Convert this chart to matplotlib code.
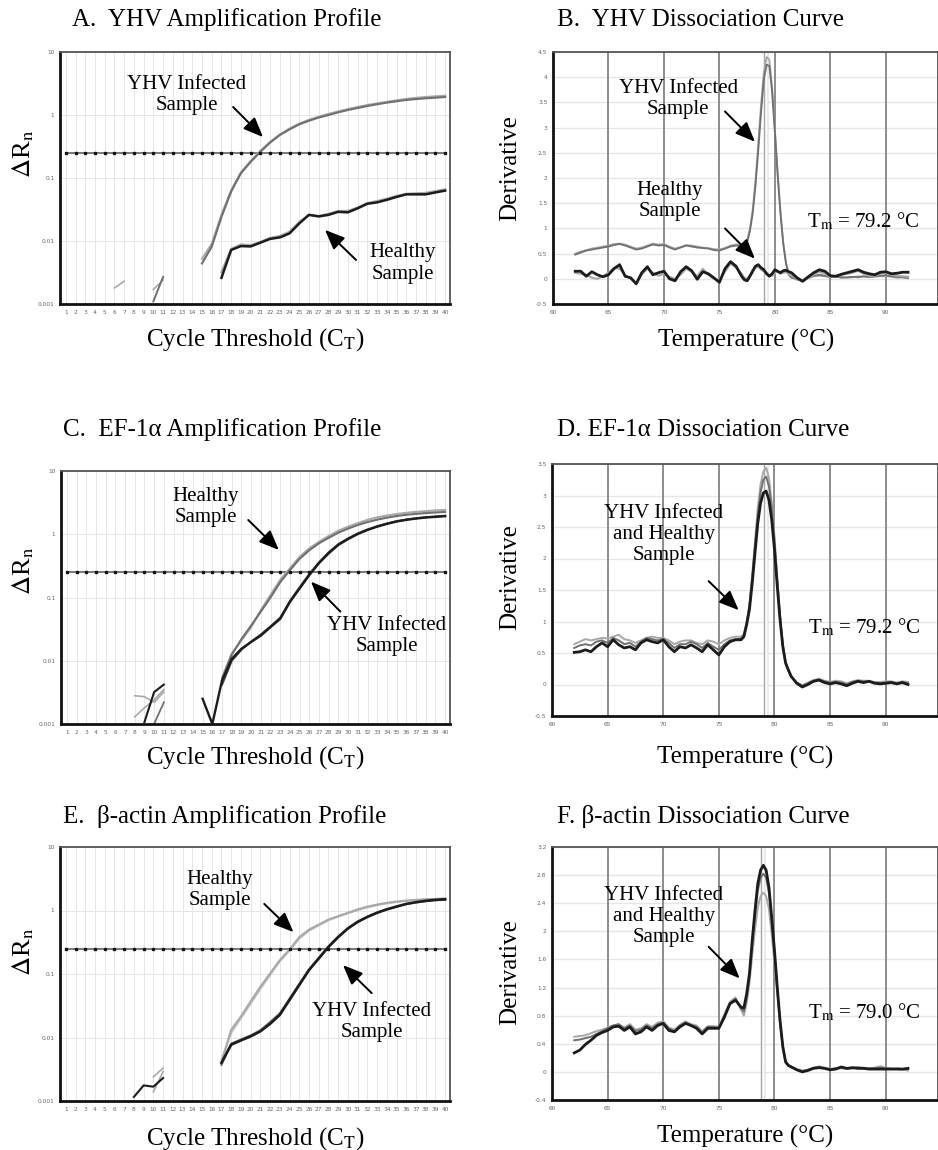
import matplotlib
matplotlib.use('Agg')
import matplotlib.pyplot as plt
from matplotlib.ticker import NullLocator

plt.rcParams['font.family'] = ['Liberation Serif', 'DejaVu Serif']
plt.rcParams['mathtext.fontset'] = 'stix'

# ---------------- amplification profiles (delta Rn per cycle) ----------------
cycles = list(range(1, 41))
threshold = 0.25
amp_yticks = [0.001, 0.01, 0.1, 1, 10]
amp_ylabels = ['0.001', '0.01', '0.1', '1', '10']

# A. YHV
a_inf_cyc = list(range(15, 41))
a_inf_1 = [0.0044, 0.0081, 0.024, 0.061, 0.119, 0.18, 0.26, 0.364, 0.48, 0.59, 0.71, 0.81, 0.91,
           1.0, 1.10, 1.20, 1.29, 1.39, 1.48, 1.57, 1.65, 1.73, 1.79, 1.84, 1.88, 1.93]
a_inf_2 = [0.0052, 0.0090, 0.026, 0.064, 0.123, 0.185, 0.27, 0.375, 0.49, 0.61, 0.73, 0.84, 0.94,
           1.04, 1.14, 1.24, 1.34, 1.44, 1.53, 1.62, 1.71, 1.80, 1.87, 1.93, 1.98, 2.02]
a_hea_cyc = list(range(17, 41))
a_hea_1 = [0.0026, 0.0072, 0.0083, 0.0082, 0.0094, 0.0108, 0.0114, 0.0132, 0.019, 0.026, 0.0245, 0.026,
           0.029, 0.0285, 0.033, 0.039, 0.041, 0.045, 0.050, 0.055, 0.055, 0.055, 0.059, 0.063]
a_hea_2 = [0.0032, 0.0075, 0.0088, 0.0086, 0.0097, 0.0112, 0.0120, 0.0140, 0.020, 0.026, 0.025, 0.027,
           0.030, 0.030, 0.034, 0.040, 0.043, 0.047, 0.052, 0.056, 0.057, 0.058, 0.062, 0.066]
a_frag1_cyc, a_frag1 = [6, 7], [0.0018, 0.0023]
a_frag2_cyc, a_frag2 = [10, 11], [0.0011, 0.0027]
a_frag3_cyc, a_frag3 = [10, 11], [0.0017, 0.0024]

# C. EF-1a
c_hea_cyc = list(range(17, 41))
c_hea_1 = [0.0055, 0.0129, 0.021, 0.034, 0.063, 0.11, 0.19, 0.29, 0.44, 0.60, 0.76, 0.94,
           1.14, 1.32, 1.50, 1.69, 1.85, 1.98, 2.09, 2.18, 2.26, 2.32, 2.38, 2.43]
c_hea_2 = [0.0050, 0.0125, 0.022, 0.036, 0.060, 0.10, 0.175, 0.27, 0.41, 0.56, 0.72, 0.88,
           1.06, 1.23, 1.40, 1.56, 1.70, 1.83, 1.94, 2.03, 2.10, 2.16, 2.21, 2.25]
c_inf1_cyc = list(range(15, 41))
c_inf_1 = [0.0025, 0.001, 0.0049, 0.0107, 0.0155, 0.0198, 0.025, 0.034, 0.046, 0.085, 0.139, 0.226, 0.35,
           0.50, 0.68, 0.84, 1.01, 1.17, 1.32, 1.46, 1.59, 1.69, 1.77, 1.84, 1.88, 1.93]
c_inf2_cyc = list(range(17, 41))
c_inf_2 = [0.0042, 0.0100, 0.0150, 0.0200, 0.026, 0.035, 0.048, 0.088, 0.145, 0.235, 0.36, 0.52,
           0.70, 0.86, 1.03, 1.19, 1.34, 1.48, 1.61, 1.71, 1.79, 1.86, 1.91, 1.96]
c_frag1_cyc, c_frag1 = [9, 10, 11], [0.00107, 0.0032, 0.0042]
c_frag2_cyc, c_frag2 = [8, 9, 10, 11], [0.0028, 0.0027, 0.0022, 0.0032]
c_frag3_cyc, c_frag3 = [8, 9, 10, 11], [0.0013, 0.0018, 0.0024, 0.0035]
c_frag4_cyc, c_frag4 = [10, 11], [0.001, 0.0022]

# E. beta-actin
e_cyc = list(range(17, 41))
e_hea_1 = [0.0040, 0.0132, 0.0214, 0.037, 0.063, 0.102, 0.165, 0.242, 0.38, 0.50, 0.60, 0.72,
           0.815, 0.92, 1.04, 1.15, 1.24, 1.32, 1.38, 1.43, 1.47, 1.50, 1.52, 1.54]
e_hea_2 = [0.0045, 0.0118, 0.0200, 0.034, 0.058, 0.096, 0.158, 0.235, 0.36, 0.48, 0.58, 0.70,
           0.80, 0.90, 1.01, 1.12, 1.21, 1.29, 1.36, 1.42, 1.46, 1.49, 1.52, 1.55]
e_inf_1 = [0.0040, 0.0077, 0.0090, 0.0104, 0.0125, 0.0164, 0.0227, 0.039, 0.067, 0.115, 0.175, 0.266,
           0.38, 0.52, 0.66, 0.79, 0.92, 1.04, 1.15, 1.27, 1.35, 1.42, 1.47, 1.50]
e_inf_2 = [0.0037, 0.0080, 0.0093, 0.0108, 0.0130, 0.0175, 0.024, 0.041, 0.070, 0.118, 0.180, 0.272,
           0.39, 0.53, 0.67, 0.80, 0.93, 1.05, 1.16, 1.26, 1.34, 1.40, 1.45, 1.48]
e_frag1_cyc, e_frag1 = [8, 9, 10, 11], [0.00116, 0.00176, 0.00168, 0.0023]
e_frag2_cyc, e_frag2 = [10, 11], [0.0024, 0.0033]
e_frag3_cyc, e_frag3 = [10, 11], [0.0014, 0.0029]

# ---------------- dissociation curves (derivative vs temperature) ----------------
temps = [62.0, 62.5, 63.0, 63.5, 64.0, 64.5, 65.0, 65.5, 66.0, 66.5, 67.0, 67.5, 68.0, 68.5, 69.0, 69.5,
         70.0, 70.5, 71.0, 71.5, 72.0, 72.5, 73.0, 73.5, 74.0, 74.5, 75.0, 75.5, 76.0, 76.5, 77.0,
         77.25, 77.5, 77.75, 78.0, 78.25, 78.5, 78.75, 79.0, 79.25, 79.5, 79.75, 80.0, 80.25, 80.5,
         80.75, 81.0, 81.25, 81.5,
         82.0, 82.5, 83.0, 83.5, 84.0, 84.5, 85.0, 85.5, 86.0, 86.5, 87.0, 87.5, 88.0, 88.5, 89.0,
         89.5, 90.0, 90.5, 91.0, 91.5, 92.0]
diss_xticks = [60, 65, 70, 75, 80, 85, 90, 95]
diss_grid = [65, 70, 75, 80, 85, 90]

# B. YHV
b_inf_1 = [0.48, 0.52, 0.56, 0.58, 0.60, 0.62, 0.64, 0.67, 0.69, 0.66, 0.62, 0.58, 0.60, 0.64, 0.68, 0.66,
           0.67, 0.62, 0.58, 0.62, 0.66, 0.64, 0.62, 0.61, 0.60, 0.57, 0.56, 0.60, 0.64, 0.66, 0.65,
           0.66, 0.72, 0.95, 1.30, 1.85, 2.55, 3.30, 3.95, 4.25, 4.22, 3.70, 2.90, 2.05, 1.30,
           0.70, 0.30, 0.08, 0.02,
           0.0, -0.05, 0.02, 0.06, 0.08, 0.06, 0.04, 0.05, 0.02, 0.03, 0.04, 0.03, 0.05, 0.04, 0.05,
           0.06, 0.07, 0.05, 0.04, 0.03, 0.02]
b_inf_2 = [0.50, 0.54, 0.57, 0.60, 0.62, 0.64, 0.66, 0.69, 0.70, 0.68, 0.64, 0.60, 0.62, 0.66, 0.70, 0.68,
           0.69, 0.64, 0.60, 0.63, 0.67, 0.66, 0.64, 0.62, 0.61, 0.59, 0.58, 0.61, 0.66, 0.68, 0.68,
           0.69, 0.76, 1.00, 1.38, 1.95, 2.68, 3.45, 4.10, 4.40, 4.35, 3.80, 2.98, 2.10, 1.35,
           0.72, 0.32, 0.10, 0.03,
           -0.02, -0.04, 0.01, 0.05, 0.06, 0.05, 0.03, 0.04, 0.04, 0.02, 0.03, 0.05, 0.04, 0.03, 0.04,
           0.05, 0.05, 0.04, 0.02, 0.03, 0.01]
b_hea_1 = [0.15, 0.15, 0.05, 0.14, 0.08, 0.04, 0.08, 0.20, 0.28, 0.05, 0.02, -0.10, 0.12, 0.24, 0.08, 0.12,
           0.15, 0.00, -0.04, 0.14, 0.24, 0.16, -0.01, 0.14, 0.10, 0.02, -0.07, 0.20, 0.34, 0.25, 0.05,
           -0.02, -0.04, 0.05, 0.15, 0.25, 0.28, 0.22, 0.18, 0.10, 0.05, 0.10, 0.18, 0.15, 0.12,
           0.16, 0.17, 0.14, 0.12,
           0.02, -0.05, 0.04, 0.12, 0.18, 0.15, 0.06, 0.05, 0.09, 0.12, 0.15, 0.18, 0.13, 0.10, 0.08,
           0.13, 0.14, 0.10, 0.11, 0.13, 0.13]
b_hea_2 = [0.12, 0.10, 0.08, 0.02, 0.00, 0.05, 0.12, 0.22, 0.20, 0.08, 0.00, -0.08, 0.08, 0.20, 0.12, 0.06,
           0.10, 0.04, 0.00, 0.08, 0.20, 0.14, 0.05, 0.20, 0.08, 0.00, -0.04, 0.14, 0.30, 0.22, 0.10,
           0.02, 0.00, 0.08, 0.18, 0.22, 0.24, 0.18, 0.15, 0.12, 0.08, 0.06, 0.12, 0.14, 0.10,
           0.12, 0.13, 0.10, 0.06,
           0.00, -0.03, 0.02, 0.08, 0.14, 0.10, 0.04, 0.06, 0.08, 0.10, 0.12, 0.16, 0.10, 0.06, 0.06,
           0.10, 0.12, 0.08, 0.06, 0.05, 0.04]
b_yticks = [-0.5, 0, 0.5, 1, 1.5, 2, 2.5, 3, 3.5, 4, 4.5]
b_ylabels = ['-0.5', '0', '0.5', '1', '1.5', '2', '2.5', '3', '3.5', '4', '4.5']
b_tm = 79.2

# D. EF-1a
d_dark = [0.51, 0.52, 0.55, 0.52, 0.60, 0.66, 0.60, 0.71, 0.63, 0.58, 0.60, 0.55, 0.66, 0.71, 0.68, 0.66,
          0.71, 0.60, 0.52, 0.60, 0.58, 0.63, 0.58, 0.52, 0.63, 0.55, 0.47, 0.60, 0.68, 0.71, 0.71,
          0.76, 0.95, 1.19, 1.61, 2.09, 2.56, 2.88, 3.04, 3.07, 2.93, 2.62, 2.14, 1.56, 1.03,
          0.60, 0.34, 0.23, 0.13,
          0.02, -0.04, 0.00, 0.05, 0.07, 0.03, 0.01, 0.03, 0.01, -0.02, 0.02, 0.05, 0.03, 0.05, 0.02,
          0.01, 0.02, 0.03, 0.01, 0.03, 0.00]
d_mid = [0.58, 0.62, 0.64, 0.62, 0.68, 0.70, 0.66, 0.74, 0.70, 0.64, 0.66, 0.60, 0.68, 0.74, 0.72, 0.70,
         0.72, 0.66, 0.58, 0.64, 0.64, 0.68, 0.64, 0.58, 0.66, 0.60, 0.55, 0.64, 0.70, 0.72, 0.73,
         0.78, 0.98, 1.25, 1.70, 2.20, 2.70, 3.05, 3.25, 3.30, 3.15, 2.80, 2.28, 1.65, 1.08,
         0.62, 0.35, 0.22, 0.12,
         0.03, -0.02, 0.02, 0.06, 0.08, 0.05, 0.03, 0.04, 0.03, 0.00, 0.04, 0.06, 0.05, 0.05, 0.03,
         0.02, 0.03, 0.04, 0.02, 0.04, 0.02]
d_light = [0.64, 0.68, 0.72, 0.70, 0.72, 0.74, 0.73, 0.76, 0.79, 0.72, 0.70, 0.66, 0.70, 0.74, 0.76, 0.74,
           0.74, 0.70, 0.64, 0.68, 0.70, 0.70, 0.66, 0.64, 0.70, 0.68, 0.64, 0.70, 0.74, 0.76, 0.76,
           0.80, 1.00, 1.28, 1.75, 2.28, 2.80, 3.18, 3.38, 3.44, 3.28, 2.90, 2.35, 1.70, 1.10,
           0.64, 0.36, 0.22, 0.12,
           0.03, -0.01, 0.03, 0.07, 0.09, 0.06, 0.04, 0.06, 0.05, 0.02, 0.05, 0.07, 0.06, 0.06, 0.04,
           0.04, 0.05, 0.05, 0.03, 0.05, 0.04]
d_yticks = [-0.5, 0, 0.5, 1, 1.5, 2, 2.5, 3, 3.5]
d_ylabels = ['-0.5', '0', '0.5', '1', '1.5', '2', '2.5', '3', '3.5']
d_tm = 79.2

# F. beta-actin
f_dark = [0.27, 0.31, 0.39, 0.45, 0.52, 0.56, 0.59, 0.64, 0.65, 0.59, 0.64, 0.54, 0.57, 0.64, 0.59, 0.66,
          0.69, 0.59, 0.57, 0.64, 0.69, 0.66, 0.62, 0.54, 0.62, 0.62, 0.62, 0.78, 0.97, 1.02, 0.92,
          0.91, 1.11, 1.40, 1.87, 2.30, 2.68, 2.87, 2.94, 2.87, 2.63, 2.20, 1.73, 1.21, 0.73,
          0.36, 0.14, 0.09, 0.07,
          0.03, 0.00, 0.02, 0.05, 0.06, 0.05, 0.03, 0.04, 0.07, 0.05, 0.06, 0.05, 0.05, 0.04, 0.04,
          0.04, 0.04, 0.04, 0.04, 0.04, 0.05]
f_mid = [0.45, 0.46, 0.48, 0.50, 0.54, 0.58, 0.62, 0.66, 0.68, 0.62, 0.66, 0.58, 0.60, 0.66, 0.62, 0.68,
         0.70, 0.62, 0.58, 0.66, 0.70, 0.66, 0.64, 0.56, 0.64, 0.64, 0.63, 0.80, 0.98, 1.04, 0.90,
         0.86, 1.05, 1.36, 1.82, 2.22, 2.58, 2.76, 2.82, 2.76, 2.55, 2.14, 1.68, 1.18, 0.72,
         0.36, 0.15, 0.10, 0.07,
         0.03, 0.01, 0.03, 0.06, 0.07, 0.05, 0.04, 0.05, 0.06, 0.05, 0.05, 0.06, 0.05, 0.05, 0.05,
         0.06, 0.05, 0.04, 0.05, 0.04, 0.04]
f_light = [0.50, 0.51, 0.52, 0.55, 0.58, 0.60, 0.63, 0.66, 0.67, 0.63, 0.68, 0.60, 0.62, 0.68, 0.64, 0.70,
           0.72, 0.63, 0.60, 0.67, 0.72, 0.68, 0.66, 0.58, 0.65, 0.65, 0.64, 0.82, 1.00, 1.06, 0.88,
           0.80, 0.98, 1.26, 1.66, 2.02, 2.34, 2.50, 2.55, 2.50, 2.32, 1.96, 1.54, 1.10, 0.68,
           0.34, 0.15, 0.10, 0.08,
           0.04, 0.02, 0.03, 0.05, 0.08, 0.06, 0.04, 0.05, 0.05, 0.04, 0.06, 0.07, 0.06, 0.05, 0.06,
           0.08, 0.06, 0.05, 0.04, 0.03, 0.02]
f_yticks = [-0.4, 0, 0.4, 0.8, 1.2, 1.6, 2, 2.4, 2.8, 3.2]
f_ylabels = ['-0.4', '0', '0.4', '0.8', '1.2', '1.6', '2', '2.4', '2.8', '3.2']
f_tm = 79.0

# colours
DARK = '#1c1c1c'
MID = '#707070'
LIGHT = '#a8a8a8'
TICK = '#666666'
AMP_LABEL = r'$\Delta$R$_\mathrm{n}$'
AMP_XLABEL = r'Cycle Threshold (C$_\mathrm{T}$)'


def style_spines(ax):
    for side in ['left', 'bottom']:
        ax.spines[side].set_linewidth(2.0)
        ax.spines[side].set_color('#111111')
    for side in ['top', 'right']:
        ax.spines[side].set_linewidth(1.3)
        ax.spines[side].set_color('#555555')


def small_ticks(ax):
    ax.tick_params(length=0, pad=4, labelsize=4.2, labelcolor=TICK)
    for lab in ax.get_xticklabels() + ax.get_yticklabels():
        lab.set_family('DejaVu Sans')


def amp_panel(ax, ylab_pos, xlab_y):
    ax.set_yscale('log')
    ax.set_ylim(0.001, 10)
    ax.set_xlim(0.4, 40.5)
    ax.set_xticks(cycles)
    ax.set_xticklabels([str(c) for c in cycles])
    ax.set_yticks(amp_yticks)
    ax.set_yticklabels(amp_ylabels)
    ax.yaxis.set_minor_locator(NullLocator())
    small_ticks(ax)
    ax.grid(True, color='#e6e6e6', lw=0.7)
    ax.set_axisbelow(True)
    style_spines(ax)
    # threshold line
    ax.plot(cycles, [threshold] * len(cycles), color='#7a7a7a', lw=1.4, zorder=2)
    ax.plot(cycles, [threshold] * len(cycles), ls='none', marker='s', ms=2.1,
            color='#151515', zorder=2.1)
    ax.set_ylabel(AMP_LABEL, fontsize=19)
    ax.yaxis.set_label_coords(*ylab_pos)
    ax.yaxis.label.set_verticalalignment('center')
    ax.set_xlabel(AMP_XLABEL, fontsize=18)
    ax.xaxis.set_label_coords(0.5, xlab_y)
    ax.xaxis.label.set_verticalalignment('center')


def diss_panel(ax, yticks, ylabels, tm, ylab_pos, xlab_y):
    # the panel runs off the right edge of the page, as in the original
    ax.set_xlim(60, 94.7)
    ax.set_ylim(yticks[0], yticks[-1])
    ax.set_xticks(diss_xticks[:-1])
    ax.set_xticklabels([str(t) for t in diss_xticks[:-1]])
    ax.set_yticks(yticks)
    ax.set_yticklabels(ylabels)
    small_ticks(ax)
    ax.yaxis.grid(True, color='#e6e6e6', lw=1.0)
    ax.set_axisbelow(True)
    for t in diss_grid:
        ax.axvline(t, color='#8c8c8c', lw=1.4, zorder=1)
    # melting temperature marker
    ax.axvline(tm, color='#a8a8a8', lw=3.2, zorder=1.2)
    ax.axvline(tm, color='white', lw=1.8, zorder=1.3)
    style_spines(ax)
    ax.set_ylabel('Derivative', fontsize=18)
    ax.yaxis.set_label_coords(*ylab_pos)
    ax.yaxis.label.set_verticalalignment('center')
    ax.set_xlabel('Temperature (°C)', fontsize=18)
    ax.xaxis.set_label_coords(0.5 * 94.7 / 95 + 0.003, xlab_y)
    ax.xaxis.label.set_verticalalignment('center')


def arrow(ax, tail, tip):
    ax.annotate('', xy=tip, xytext=tail,
                arrowprops=dict(arrowstyle='-|>,head_length=1.2,head_width=0.5',
                                color='black', lw=1.4, shrinkA=0, shrinkB=0,
                                mutation_scale=10), zorder=5)


def note(ax, x, y, s):
    ax.text(x, y, s, ha='center', va='center', fontsize=15, linespacing=1.15, zorder=5)


fig = plt.figure(figsize=(9.38, 11.5), dpi=100)
W, H = 938.0, 1150.0


def px_axes(x0, x1, top, bottom):
    return fig.add_axes([x0 / W, 1 - bottom / H, (x1 - x0) / W, (bottom - top) / H])


axA = px_axes(60, 450, 52, 304)
axB = px_axes(553, 938, 52, 304)
axC = px_axes(61, 450, 471, 724)
axD = px_axes(552, 938, 464, 716)
axE = px_axes(60, 450, 847, 1101)
axF = px_axes(552, 938, 847, 1100)

titles = [(72, 20, 'A.  YHV Amplification Profile'),
          (557, 20, 'B.  YHV Dissociation Curve'),
          (63, 430, 'C.  EF-1\u03b1 Amplification Profile'),
          (557, 430, 'D. EF-1\u03b1 Dissociation Curve'),
          (63, 817, 'E.  \u03b2-actin Amplification Profile'),
          (557, 817, 'F. \u03b2-actin Dissociation Curve')]
for x, y, s in titles:
    fig.text(x / W, 1 - y / H, s, ha='left', va='center', fontsize=18)

# ---- A ----
amp_panel(axA, (-0.095, 0.595), -0.143)
axA.plot(a_frag1_cyc, a_frag1, color=LIGHT, lw=1.2)
axA.plot(a_frag3_cyc, a_frag3, color=LIGHT, lw=1.2)
axA.plot(a_frag2_cyc, a_frag2, color=MID, lw=1.4)
axA.plot(a_inf_cyc, a_inf_2, color=LIGHT, lw=1.5)
axA.plot(a_inf_cyc, a_inf_1, color=MID, lw=1.5)
axA.plot(a_hea_cyc, a_hea_2, color=LIGHT, lw=1.6)
axA.plot(a_hea_cyc, a_hea_1, color=DARK, lw=1.8)
note(axA, 13.45, 2.11, 'YHV Infected\nSample')
arrow(axA, (18.2, 1.34), (21.27, 0.447))
note(axA, 35.67, 0.0044, 'Healthy\nSample')
arrow(axA, (30.84, 0.0050), (27.65, 0.0150))

# ---- B ----
diss_panel(axB, b_yticks, b_ylabels, b_tm, (-0.111, 0.54), -0.143)
axB.plot(temps, b_inf_2, color=LIGHT, lw=1.3, zorder=3)
axB.plot(temps, b_inf_1, color=MID, lw=1.3, zorder=3)
axB.plot(temps, b_hea_2, color=LIGHT, lw=1.5, zorder=3)
axB.plot(temps, b_hea_1, color=DARK, lw=2.0, zorder=3)
note(axB, 71.3, 3.57, 'YHV Infected\nSample')
arrow(axB, (75.5, 3.32), (78.2, 2.72))
note(axB, 70.5, 1.54, 'Healthy\nSample')
arrow(axB, (75.5, 1.0), (78.2, 0.40))
note(axB, 88.0, 1.14, r'T$_\mathrm{m}$ = %.1f °C' % b_tm)

# ---- C ----
amp_panel(axC, (-0.098, 0.605), -0.134)
axC.plot(c_frag2_cyc, c_frag2, color=LIGHT, lw=1.2)
axC.plot(c_frag3_cyc, c_frag3, color=LIGHT, lw=1.2)
axC.plot(c_frag4_cyc, c_frag4, color=MID, lw=1.3)
axC.plot(c_frag1_cyc, c_frag1, color=DARK, lw=1.5)
axC.plot(c_hea_cyc, c_hea_1, color=LIGHT, lw=1.5)
axC.plot(c_hea_cyc, c_hea_2, color=MID, lw=1.5)
axC.plot(c_inf2_cyc, c_inf_2, color='#404040', lw=1.5)
axC.plot(c_inf1_cyc, c_inf_1, color=DARK, lw=1.7)
note(axC, 15.3, 2.70, 'Healthy\nSample')
arrow(axC, (19.7, 1.68), (22.85, 0.565))
note(axC, 34.0, 0.0243, 'YHV Infected\nSample')
arrow(axC, (29.2, 0.0599), (26.17, 0.178))

# ---- D ----
diss_panel(axD, d_yticks, d_ylabels, d_tm, (-0.108, 0.55), -0.163)
axD.plot(temps, d_light, color=LIGHT, lw=1.4, zorder=3)
axD.plot(temps, d_mid, color=MID, lw=1.4, zorder=3)
axD.plot(temps, d_dark, color=DARK, lw=2.0, zorder=3)
note(axD, 70.03, 2.38, 'YHV Infected\nand Healthy\nSample')
arrow(axD, (74.08, 1.64), (76.78, 1.18))
note(axD, 88.05, 0.90, r'T$_\mathrm{m}$ = %.1f °C' % d_tm)

# ---- E ----
amp_panel(axE, (-0.095, 0.587), -0.146)
axE.plot(e_frag2_cyc, e_frag2, color=LIGHT, lw=1.2)
axE.plot(e_frag3_cyc, e_frag3, color=LIGHT, lw=1.2)
axE.plot(e_frag1_cyc, e_frag1, color=DARK, lw=1.5)
axE.plot(e_cyc, e_hea_2, color='#c0c0c0', lw=1.4)
axE.plot(e_cyc, e_hea_1, color=LIGHT, lw=1.5)
axE.plot(e_cyc, e_inf_2, color=MID, lw=1.5)
axE.plot(e_cyc, e_inf_1, color=DARK, lw=1.9)
note(axE, 16.84, 2.09, 'Healthy\nSample')
arrow(axE, (21.4, 1.27), (24.4, 0.457))
note(axE, 32.45, 0.0177, 'YHV Infected\nSample')
arrow(axE, (32.45, 0.050), (29.5, 0.138))

# ---- F ----
diss_panel(axF, f_yticks, f_ylabels, f_tm, (-0.108, 0.504), -0.146)
axF.plot(temps, f_light, color=LIGHT, lw=1.4, zorder=3)
axF.plot(temps, f_mid, color=MID, lw=1.4, zorder=3)
axF.plot(temps, f_dark, color=DARK, lw=2.0, zorder=3)
note(axF, 70.03, 2.21, 'YHV Infected\nand Healthy\nSample')
arrow(axF, (74.08, 1.78), (76.87, 1.33))
note(axF, 88.05, 0.85, r'T$_\mathrm{m}$ = %.1f °C' % f_tm)

fig.savefig('out.png', dpi=100)
